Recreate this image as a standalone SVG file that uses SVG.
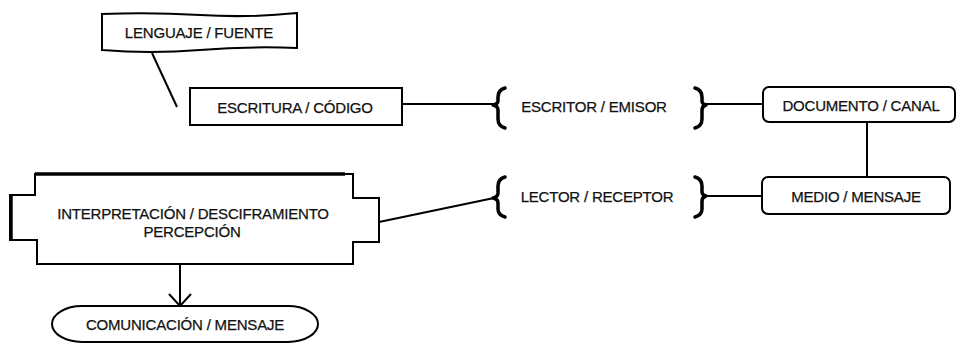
<svg xmlns="http://www.w3.org/2000/svg" width="962" height="345" viewBox="0 0 962 345">
<style>
.box{fill:#fff;stroke:#000;stroke-width:2}
.ln{fill:none;stroke:#000;stroke-width:2}
.br{fill:none;stroke:#000;stroke-width:3.5;stroke-linecap:round;stroke-linejoin:round}
text{font-family:"Liberation Sans",Arial,sans-serif;font-size:15px;fill:#111;stroke:#111;stroke-width:0.25;text-anchor:middle;dominant-baseline:central;letter-spacing:-0.2px}
</style>
<rect width="962" height="345" fill="#fff"/>
<g id="connectors">
<path class="ln" d="M152,53 L177,107"/>
<path class="ln" d="M402,104 H494"/>
<path class="ln" d="M704,104 H763"/>
<path class="ln" d="M867,122 V177"/>
<path class="ln" d="M704,196 H762"/>
<path class="ln" d="M379,222 L494,198"/>
<path class="ln" d="M180,264 V306 M169,294 L180,306 L191,294"/>
</g>
<g id="lenguaje">
<path class="box" d="M102,14 Q150,12 200,15 Q250,18 297,13 V48 Q250,46 200,50 Q150,54 102,50 Z"/>
<text x="199" y="32">LENGUAJE / FUENTE</text>
</g>
<g id="escritura">
<rect class="box" x="190" y="88" width="212" height="37"/>
<text x="295" y="107">ESCRITURA / CÓDIGO</text>
</g>
<g id="escritor">
<path class="br" d="M505,88 Q498,90 498,97 V101 Q498,104 493,105 Q498,106 498,110 V119 Q498,126 505,128"/>
<path class="br" d="M695,88 Q702,90 702,97 V101 Q702,104 706,105 Q702,106 702,110 V119 Q702,126 695,128"/>
<text x="594" y="106">ESCRITOR / EMISOR</text>
</g>
<g id="documento">
<rect class="box" x="763" y="87" width="192" height="35" rx="6"/>
<text x="861" y="105">DOCUMENTO / CANAL</text>
</g>
<g id="medio">
<rect class="box" x="762" y="177" width="188" height="37" rx="6"/>
<text x="856" y="196">MEDIO / MENSAJE</text>
</g>
<g id="lector">
<path class="br" d="M505,177 Q498,179 498,186 V193 Q498,197 493,198 Q498,199 498,203 V209 Q498,215 505,217"/>
<path class="br" d="M695,177 Q702,179 702,186 V192 Q702,195 706,196 Q702,197 702,201 V209 Q702,215 695,217"/>
<text x="597" y="196">LECTOR / RECEPTOR</text>
</g>
<g id="interpretacion">
<path class="box" d="M35,174 H353 V198 H379 V242 H353 V264 H37 V240 H10 V195 H35 Z"/>
<path fill="none" stroke="#000" stroke-width="3.5" d="M35,174 H345"/>
<path fill="none" stroke="#000" stroke-width="3.5" d="M11,195 V240"/>
<text x="193" y="213">INTERPRETACIÓN / DESCIFRAMIENTO</text>
<text x="192" y="231">PERCEPCIÓN</text>
</g>
<g id="comunicacion">
<rect class="box" x="52" y="306" width="266" height="36" rx="30" ry="18"/>
<text x="185" y="324">COMUNICACIÓN / MENSAJE</text>
</g>
</svg>
